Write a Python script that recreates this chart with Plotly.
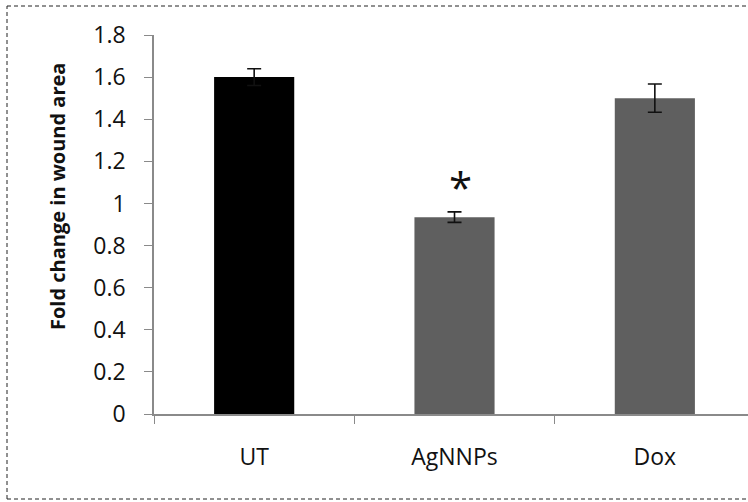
import plotly.graph_objects as go

categories = ["UT", "AgNNPs", "Dox"]
values = [1.60, 0.935, 1.50]
errors = [0.04, 0.025, 0.067]
bar_colors = ["#000000", "#5f5f5f", "#5f5f5f"]
y_ticks = [0, 0.2, 0.4, 0.6, 0.8, 1.0, 1.2, 1.4, 1.6, 1.8]
y_tick_text = ["0", "0.2", "0.4", "0.6", "0.8", "1", "1.2", "1.4", "1.6", "1.8"]
sig_label = "*"
sig_category = "AgNNPs"
sig_y = 1.08

W, H = 748, 502
L, R, T, B = 154, 0, 35, 88
PW, PH = W - L - R, H - T - B


def dx(px):
    return (px - L) / PW


def dy(py):
    return 1 - (py - T) / PH


fig = go.Figure()
fig.add_trace(go.Bar(
    x=categories, y=values, width=0.4,
    marker=dict(color=bar_colors, line=dict(width=0)),
    error_y=dict(type="data", array=errors, visible=True,
                 color="#111111", thickness=1.6, width=7),
    showlegend=False,
))

fig.add_annotation(x=sig_category, y=sig_y, text=sig_label, showarrow=False,
                   font=dict(family="Open Sans", size=42, color="#111111"),
                   xref="x", yref="y", xanchor="center", yanchor="middle", xshift=6)

fig.add_annotation(x=dx(57), y=dy(197), xref="x domain", yref="y domain",
                   text="<b>Fold change in wound area</b>", textangle=-90,
                   showarrow=False, xanchor="center", yanchor="middle",
                   font=dict(family="Open Sans", size=20, color="#111111"))

# dashed outer border (left, top, bottom; right edge is cut off in the reference)
border = dict(color="#222222", width=1, dash="4px,3px")
fig.add_shape(type="line", xref="x domain", yref="y domain",
              x0=dx(7), x1=dx(7), y0=dy(499), y1=dy(6), line=border)
fig.add_shape(type="line", xref="x domain", yref="y domain",
              x0=dx(7), x1=dx(748), y0=dy(6), y1=dy(6), line=border)
fig.add_shape(type="line", xref="x domain", yref="y domain",
              x0=dx(7), x1=dx(748), y0=dy(499), y1=dy(499), line=border)

fig.update_layout(
    width=W, height=H,
    margin=dict(l=L, r=R, t=T, b=B),
    paper_bgcolor="white", plot_bgcolor="white",
    font=dict(family="Open Sans", color="#111111"),
    xaxis=dict(range=[-0.5, 2.465], showline=True, linecolor="#8a8a8a", linewidth=1.5,
               ticks="outside", ticklen=8, tickcolor="#8a8a8a", tickson="boundaries",
               tickfont=dict(size=23, color="#111111"), ticklabelstandoff=22,
               showgrid=False, zeroline=False, fixedrange=True),
    yaxis=dict(range=[0, 1.8], tickvals=y_ticks, ticktext=y_tick_text,
               showline=True, linecolor="#8a8a8a", linewidth=1.5,
               ticks="outside", ticklen=8, tickcolor="#8a8a8a",
               tickfont=dict(size=23, color="#111111"), ticklabelstandoff=14,
               showgrid=False, zeroline=False, fixedrange=True),
)

fig.write_html("out.html", config={"displayModeBar": False},
               post_script="document.body.style.margin='0';")
